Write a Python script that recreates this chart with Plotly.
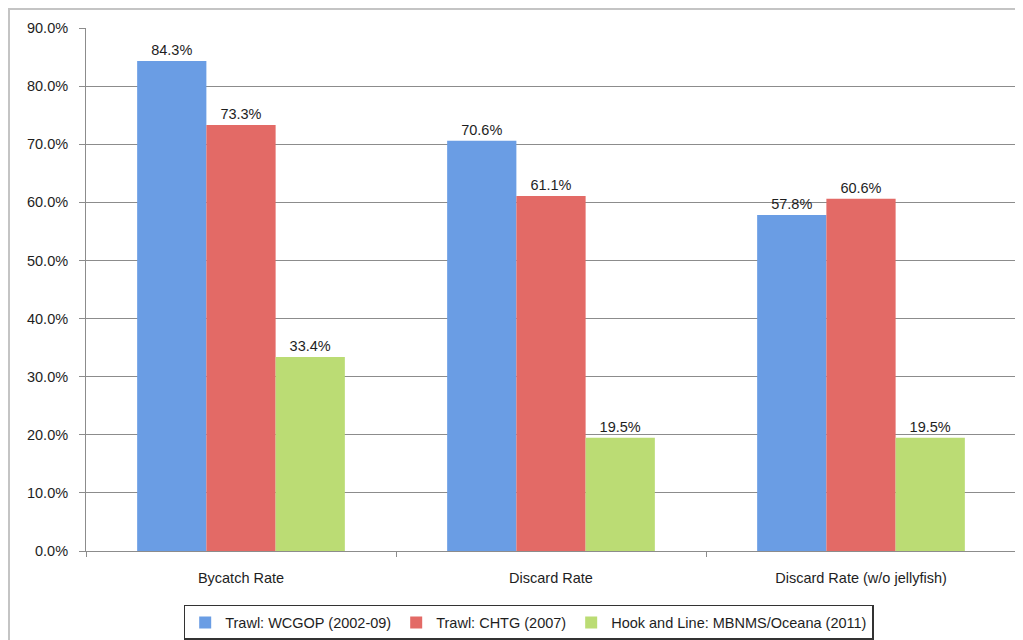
import plotly.graph_objects as go

categories = ['Bycatch Rate', 'Discard Rate', 'Discard Rate (w/o jellyfish)']
series_names = ['Trawl: WCGOP (2002-09)', 'Trawl: CHTG (2007)', 'Hook and Line: MBNMS/Oceana (2011)']
wcgop = [84.3, 70.6, 57.8]
chtg = [73.3, 61.1, 60.6]
hook_line = [33.4, 19.5, 19.5]
y_ticks = [0, 10, 20, 30, 40, 50, 60, 70, 80, 90]

colors = ['#6A9DE4', '#E36A66', '#BBDC74']
FONT = 'Liberation Sans, Arial, sans-serif'

fig = go.Figure()

for name, values, color in zip(series_names, [wcgop, chtg, hook_line], colors):
    fig.add_trace(go.Bar(
        x=categories,
        y=values,
        name=name,
        marker=dict(color=color, line=dict(width=0)),
        text=[f"{v:.1f}%" for v in values],
        textposition='outside',
        textfont=dict(size=14.5, color='#1E1E1E'),
        cliponaxis=False,
    ))

# 外枠（グラフ全体を囲む薄いグレーの線）
fig.add_shape(
    type='rect', xref='paper', yref='paper',
    x0=-0.0828, y0=-0.3, x1=1.05, y1=1.0363,
    line=dict(color='#C4C4C4', width=2),
    layer='below',
)

fig.update_layout(
    width=1015,
    height=632,
    margin=dict(l=78, r=7, t=20, b=89),
    paper_bgcolor='white',
    plot_bgcolor='white',
    font=dict(family=FONT, size=14.5, color='#1E1E1E'),
    barmode='group',
    bargap=0.33,
    bargroupgap=0,
    showlegend=True,
    legend=dict(
        orientation='h',
        xref='container', yref='container',
        x=0.513, xanchor='center',
        y=0.0554, yanchor='top',
        bordercolor='#333333',
        borderwidth=1.5,
        font=dict(size=14.5),
    ),
    xaxis=dict(
        showline=True,
        linecolor='#8C8C8C',
        linewidth=1,
        ticks='outside',
        tickson='boundaries',
        ticklen=5,
        tickcolor='#8C8C8C',
        showgrid=False,
        tickfont=dict(size=14.5),
        ticklabelstandoff=14,
        automargin=False,
    ),
    yaxis=dict(
        range=[0, 90],
        tickvals=y_ticks,
        ticktext=[f"{v:.1f}%" for v in y_ticks],
        showgrid=True,
        gridcolor='#8C8C8C',
        gridwidth=1,
        showline=True,
        linecolor='#8C8C8C',
        linewidth=1,
        ticks='outside',
        ticklen=6,
        tickcolor='#8C8C8C',
        tickfont=dict(size=14.5),
        ticklabelstandoff=8,
        zeroline=False,
        automargin=False,
    ),
)

fig.write_html("out.html")
